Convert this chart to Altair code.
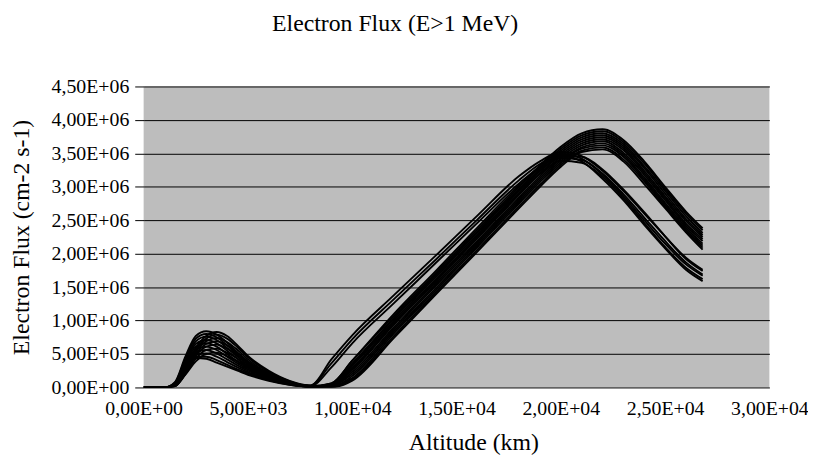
import altair as alt
import pandas as pd

# Altitude grid (km)
altitude_km = [0, 1000, 1500, 2000, 2500, 3000, 3500, 4000, 4500, 5000, 6000, 7000, 8000,
               9000, 10000, 12000, 14000, 16000, 18000, 19000, 20000, 21000, 22000, 23000,
               24000, 25000, 26000, 26800]

# Electron flux curves, in units of 1e5 cm-2 s-1
c01 = [0, 0, 0.8, 4.6, 7.7, 8.4, 7.9, 6.7, 5.2, 3.8, 1.9, 0.8, 0.3, 4.2, 7.8, 13.8, 19.7, 25.7, 31.6, 33.8, 35.2, 34.6, 32.4, 29.4, 26.0, 22.6, 19.4, 17.6]
c02 = [0, 0, 0.3, 2.8, 5.9, 7.7, 8.3, 7.7, 6.3, 4.7, 2.5, 1.0, 0.3, 3.6, 7.2, 13.2, 19.1, 25.1, 31.0, 33.4, 34.9, 34.2, 31.8, 28.6, 25.0, 21.5, 18.4, 16.7]
c03 = [0, 0, 0.7, 4.3, 7.3, 8.0, 7.5, 6.3, 4.9, 3.6, 1.8, 0.7, 0.2, 3.0, 6.6, 12.6, 18.6, 24.6, 30.5, 33.0, 34.6, 33.8, 31.2, 28.0, 24.3, 20.8, 17.6, 15.9]
c04 = [0, 0, 0.3, 2.6, 5.6, 7.3, 7.9, 7.3, 6.0, 4.5, 2.3, 0.9, 0.2, 0.6, 4.0, 11.0, 17.4, 23.9, 30.2, 32.8, 34.6, 34.5, 32.6, 29.6, 26.2, 22.6, 19.2, 17.4]
c05 = [0, 0, 0.6, 4.0, 6.9, 7.6, 7.1, 5.9, 4.6, 3.4, 1.7, 0.7, 0.2, 0.4, 3.4, 10.3, 16.8, 23.2, 29.6, 32.4, 34.3, 34.0, 32.0, 28.9, 25.4, 21.9, 18.7, 16.9]
c06 = [0, 0, 0.2, 2.4, 5.3, 6.9, 7.4, 6.8, 5.6, 4.2, 2.1, 0.8, 0.2, 0.2, 2.8, 9.7, 16.1, 22.6, 29.0, 31.9, 33.9, 33.6, 31.5, 28.3, 24.6, 21.0, 17.9, 16.2]
c07 = [0, 0, 0.6, 3.8, 6.5, 7.1, 6.6, 5.5, 4.3, 3.1, 1.6, 0.6, 0.1, 0.6, 4.0, 10.7, 17.1, 23.6, 30.0, 33.2, 36.0, 38.0, 38.6, 37.0, 33.8, 30.0, 26.3, 23.8]
c08 = [0, 0, 0.2, 2.3, 5.0, 6.5, 6.9, 6.3, 5.2, 3.9, 2.0, 0.8, 0.2, 0.5, 3.6, 10.4, 16.8, 23.3, 29.7, 32.9, 35.7, 37.7, 38.3, 36.7, 33.5, 29.7, 26.0, 23.5]
c09 = [0, 0, 0.5, 3.6, 6.1, 6.6, 6.1, 5.0, 3.9, 2.9, 1.5, 0.6, 0.1, 0.4, 3.2, 10.0, 16.5, 22.9, 29.4, 32.6, 35.4, 37.4, 38.0, 36.4, 33.1, 29.4, 25.6, 23.1]
c10 = [0, 0, 0.2, 2.1, 4.7, 6.1, 6.4, 5.8, 4.8, 3.6, 1.8, 0.7, 0.1, 0.3, 2.9, 9.7, 16.1, 22.6, 29.1, 32.3, 35.1, 37.1, 37.7, 36.1, 32.8, 29.0, 25.2, 22.8]
c11 = [0, 0, 0.5, 3.4, 5.7, 6.1, 5.6, 4.6, 3.6, 2.7, 1.4, 0.5, 0.1, 0.3, 2.6, 9.4, 15.8, 22.3, 28.8, 32.0, 34.8, 36.8, 37.4, 35.8, 32.4, 28.6, 24.9, 22.5]
c12 = [0, 0, 0.4, 3.2, 5.3, 5.6, 5.1, 4.2, 3.3, 2.5, 1.3, 0.5, 0.1, 0.2, 2.3, 9.0, 15.5, 21.9, 28.4, 31.6, 34.5, 36.5, 37.1, 35.5, 32.1, 28.3, 24.5, 22.2]
c13 = [0, 0, 0.2, 2.0, 4.3, 5.6, 5.8, 5.2, 4.3, 3.2, 1.6, 0.6, 0.1, 0.2, 2.0, 8.7, 15.2, 21.6, 28.1, 31.3, 34.2, 36.2, 36.8, 35.1, 31.8, 28.0, 24.2, 21.9]
c14 = [0, 0, 0.4, 3.0, 4.9, 5.1, 4.6, 3.8, 3.0, 2.3, 1.2, 0.5, 0.1, 0.1, 1.7, 8.4, 14.8, 21.3, 27.8, 31.0, 33.9, 35.9, 36.5, 34.8, 31.4, 27.6, 23.9, 21.5]
c15 = [0, 0, 0.4, 2.9, 4.6, 4.6, 4.1, 3.4, 2.7, 2.1, 1.1, 0.4, 0.1, 0.1, 1.4, 8.1, 14.5, 21.0, 27.5, 30.7, 33.6, 35.7, 36.2, 34.5, 31.1, 27.3, 23.6, 21.2]
c16 = [0, 0, 0.2, 1.9, 3.9, 5.0, 5.2, 4.7, 3.9, 3.0, 1.5, 0.6, 0.1, 0.1, 1.2, 7.7, 14.2, 20.6, 27.1, 30.3, 33.3, 35.4, 35.9, 34.1, 30.8, 27.0, 23.4, 20.9]
c17 = [0, 0, 0.4, 2.8, 4.4, 4.3, 3.7, 3.1, 2.5, 1.9, 1.0, 0.4, 0.1, 0.0, 1.0, 7.4, 13.9, 20.3, 26.8, 30.0, 33.0, 35.2, 35.6, 33.8, 30.4, 26.8, 23.2, 20.6]

curves = [c01, c02, c03, c04, c05, c06, c07, c08, c09, c10, c11, c12, c13, c14, c15, c16, c17]

x_ticks = [0, 5000, 10000, 15000, 20000, 25000, 30000]
y_ticks = [0, 500000, 1000000, 1500000, 2000000, 2500000, 3000000, 3500000, 4000000, 4500000]
chart_title = ["Electron Flux (E>1 MeV)"]

rows = []
for i, c in enumerate(curves):
    for a, v in zip(altitude_km, c):
        rows.append({"curve": f"c{i + 1:02d}", "alt": a, "flux": v * 1e5})
df = pd.DataFrame(rows)

label_expr = "replace(replace(upper(format(datum.value, '.2e')), '.', ','), 'E+', 'E+0')"
FONT = "Liberation Serif"

lines = alt.Chart(df).mark_line(
    color="black", strokeWidth=1.9, interpolate="monotone", clip=True
).encode(
    x=alt.X("alt:Q",
            scale=alt.Scale(domain=[0, 30000], nice=False, zero=False),
            axis=alt.Axis(values=x_ticks, labelExpr=label_expr, grid=False, ticks=False,
                          tickSize=0, domain=False, labelFontSize=20, labelPadding=21,
                          labelBaseline="middle", labelColor="black", labelFont=FONT,
                          labelOverlap=False, labelBound=False, labelFlush=False,
                          title="Altitude (km)", titleFont=FONT, titleFontSize=24,
                          titleFontWeight="normal", titleColor="black",
                          titleX=333, titleY=56, titleBaseline="middle")),
    y=alt.Y("flux:Q",
            scale=alt.Scale(domain=[0, 4500000], nice=False),
            axis=alt.Axis(values=y_ticks, labelExpr=label_expr, grid=True, gridColor="black",
                          gridWidth=1, gridOpacity=1, ticks=True, tickSize=9, tickColor="black",
                          tickWidth=1, domain=False, labelFontSize=20, labelPadding=6,
                          labelColor="black", labelFont=FONT, labelBaseline="middle",
                          labelOverlap=False,
                          title="Electron Flux (cm-2 s-1)", titleFont=FONT, titleFontSize=24,
                          titleFontWeight="normal", titleColor="black",
                          titleX=-123, titleY=152, titleBaseline="middle", titleAngle=-90)),
    detail="curve:N",
)

title_text = alt.Chart(pd.DataFrame({"t": chart_title})).mark_text(
    font=FONT, fontSize=24, color="black", align="center", baseline="alphabetic"
).encode(
    text="t:N",
    x=alt.value(254),
    y=alt.value(-56),
)

chart = alt.layer(lines, title_text).properties(
    width=632,
    height=304,
    autosize=alt.AutoSizeParams(type="none"),
    padding={"left": 137, "top": 77, "right": 39, "bottom": 69},
).configure(
    background="white",
    view=alt.ViewConfig(fill="#bdbdbd", strokeWidth=0),
)

chart.save("out.html", embed_options={"renderer": "svg", "actions": False})
